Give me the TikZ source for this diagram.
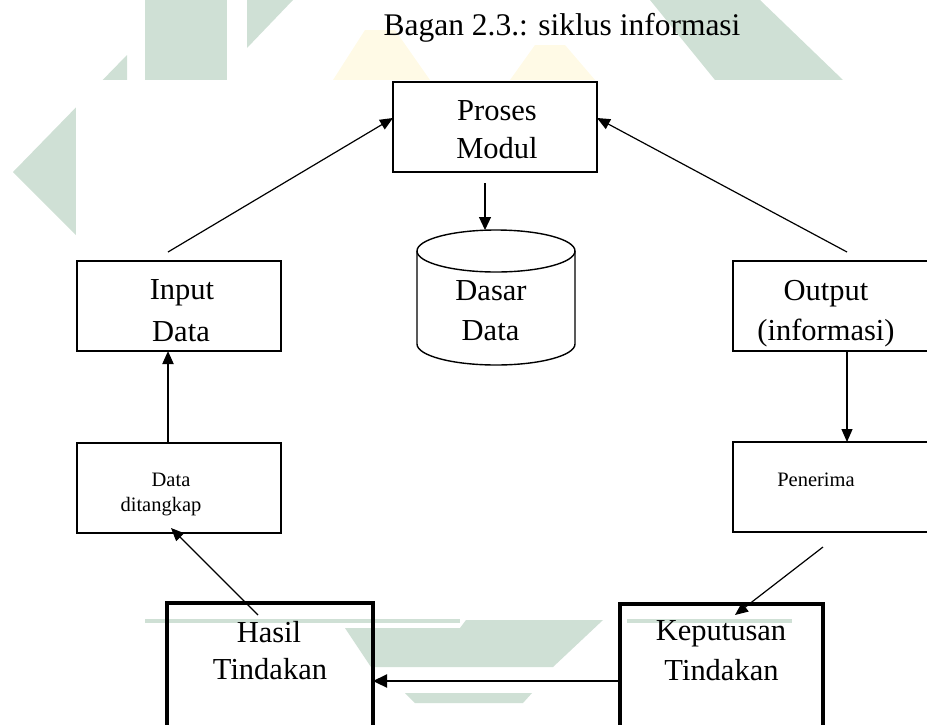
\documentclass[tikz,border=0pt]{standalone}
\usepackage{fontspec}
\setmainfont{Liberation Serif}
\usetikzlibrary{arrows.meta}
\definecolor{wmgreen}{HTML}{CFE0D5}
\definecolor{wmyellow}{HTML}{FFFAE6}
\begin{document}
\begin{tikzpicture}[x=1pt,y=-1pt,
  box/.style={draw, line width=1.6pt, inner sep=0pt, outer sep=0pt},
  thickbox/.style={draw, line width=3.5pt, inner sep=0pt, outer sep=0pt},
  conn/.style={line width=1.2pt, -{Triangle[length=13pt,width=11pt]}},
  big/.style={font=\fontsize{30.5}{36}\selectfont, inner sep=0pt, anchor=base},
  small/.style={font=\fontsize{20.5}{24}\selectfont, inner sep=0pt, anchor=base},
  wm/.style={fill=wmgreen, draw=none},
  wmy/.style={fill=wmyellow, draw=none}]
\useasboundingbox (0,0) rectangle (927,724);
\clip (0,0) rectangle (927,724);
% watermark (top and left)
\fill[wm] (145,0) rectangle (227,80);
\fill[wm] (247,0) -- (293,0) -- (247,48) -- cycle;
\fill[wm] (127,55) -- (127,286) -- (13,172) -- cycle;
\fill[wm] (650,0) -- (760,0) -- (843,80) -- (715,80) -- cycle;
\fill[wmy] (333,80) -- (365,30) -- (395,30) -- (430,80) -- cycle;
\fill[wmy] (510,80) -- (535,45) -- (565,45) -- (595,80) -- cycle;
\fill[white] (76,80) rectangle (927,724);
% watermark (bottom band)
\fill[wm] (145,619) rectangle (460,623);
\fill[wm] (627,619) rectangle (792,623);
\fill[wm] (345,628) -- (460,628) -- (466,620) -- (603,620) -- (553,667) -- (371,667) -- cycle;
\fill[wm] (405,693) -- (532,693) -- (523,703) -- (415,703) -- cycle;
% title
\node[font=\fontsize{31.5}{36}\selectfont, inner sep=0pt, anchor=base] (title) at (562,35.7) {Bagan 2.3.: siklus informasi};
% boxes
\node[box, minimum width=204pt, minimum height=90pt] (pm) at (495,127) {};
\node[box, minimum width=204pt, minimum height=90pt] (in) at (179,306) {};
\node[box, minimum width=227pt, minimum height=90pt] (out) at (846.5,306) {};
\node[box, minimum width=204pt, minimum height=90pt] (dt) at (179,488) {};
\node[box, minimum width=227pt, minimum height=90pt] (pen) at (846.5,487) {};
\node[thickbox, minimum width=206pt, minimum height=156pt] (hs) at (270,681) {};
\node[thickbox, minimum width=203pt, minimum height=154pt] (kp) at (721.5,681) {};
\node[inner sep=0pt, outer sep=0pt, minimum width=158pt, minimum height=135pt] (cyl) at (496,297.5) {};
% cylinder
\draw[line width=1.4pt] ([yshift=-21pt]cyl.north) ellipse [x radius=79pt, y radius=21pt];
\draw[line width=1.4pt] ([yshift=-21pt]cyl.north west) -- ([yshift=21pt]cyl.south west)
  arc[start angle=180, end angle=360, x radius=79pt, y radius=21pt] -- ([yshift=-21pt]cyl.north east);
% texts
\node[big] (t1a) at (497,120) {Proses};
\node[big] (t1b) at (497,158) {Modul};
\node[big] (t2a) at (491,300) {Dasar};
\node[big] (t2b) at (490.5,340) {Data};
\node[big] (t3a) at (182,299) {Input};
\node[big] (t3b) at (181,341) {Data};
\node[big] (t4a) at (826,300) {Output};
\node[big] (t4b) at (826,340) {(informasi)};
\node[small] (t5a) at (171,486) {Data};
\node[small] (t5b) at (161,511) {ditangkap};
\node[small] (t6) at (816,486) {Penerima};
\node[big] (t7a) at (269,642) {Hasil};
\node[big] (t7b) at (270,679) {Tindakan};
\node[big] (t8a) at (721,640) {Keputusan};
\node[big] (t8b) at (721.5,680) {Tindakan};
% connectors
\draw[conn] ([xshift=-11pt,yshift=9pt]in.north) -- ([yshift=9pt]pm.west);
\draw[conn] ([xshift=114pt,yshift=9pt]out.north west) -- ([yshift=9pt]pm.east);
\draw[conn, -{Triangle[length=13pt,width=12pt]}] ([xshift=-10pt,yshift=-11pt]pm.south) -- ([xshift=-11pt]cyl.north);
\draw[conn] ([xshift=114pt]out.south west) -- ([xshift=114pt]pen.north west);
\draw[conn, line width=2pt] ([xshift=-11pt]dt.north) -- ([xshift=-11pt]in.south);
\draw[conn] ([xshift=91pt,yshift=-12pt]hs.north west) -- ([xshift=-8pt,yshift=5pt]dt.south);
\draw[conn] ([xshift=90pt,yshift=-15pt]pen.south west) -- ([xshift=115pt,yshift=-11pt]kp.north west);
\draw[conn, line width=2.2pt, -{Triangle[length=14pt,width=13pt]}] (kp.west) -- (hs.east);
\end{tikzpicture}
\end{document}
